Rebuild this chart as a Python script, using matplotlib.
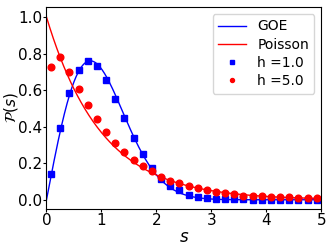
import matplotlib
matplotlib.use("Agg")
import matplotlib.pyplot as plt
import numpy as np

# bin centres of the level-spacing histogram
s_bins = (np.arange(30) + 0.5) / 6.0

p_h1 = [0.142, 0.392, 0.586, 0.710, 0.758, 0.732, 0.656, 0.554, 0.447, 0.340,
        0.249, 0.173, 0.113, 0.077, 0.051, 0.025, 0.015, 0.007, 0.005, 0.003,
        0.002, 0.002, 0.001, 0.001, 0.001, 0.001, 0.000, 0.000, 0.000, 0.000]
p_h5 = [0.728, 0.780, 0.700, 0.604, 0.518, 0.444, 0.372, 0.313, 0.264, 0.219,
        0.187, 0.158, 0.127, 0.105, 0.091, 0.077, 0.064, 0.051, 0.044, 0.038,
        0.031, 0.023, 0.020, 0.018, 0.016, 0.015, 0.013, 0.011, 0.011, 0.011]

# theory curves
s = np.linspace(0, 5, 400)
goe = np.pi / 2 * s * np.exp(-np.pi * s**2 / 4)
poisson = np.exp(-s)

fig = plt.figure(figsize=(3.32, 2.49), dpi=100)
ax = fig.add_axes([0.140, 0.161, 0.828, 0.811])

ax.plot(s, goe, color='blue', lw=1.0, label='GOE')
ax.plot(s, poisson, color='red', lw=1.0, label='Poisson')
ax.plot(s_bins, p_h1, 's', color='blue', ms=4.2, label='h =1.0')
ax.plot(s_bins, p_h5, 'o', color='red', ms=4.8, label='h =5.0')

ax.set_xlim(0, 5)
ax.set_ylim(-0.05, 1.055)
ax.set_xticks([0, 1, 2, 3, 4, 5])
ax.set_yticks([0.0, 0.2, 0.4, 0.6, 0.8, 1.0])
ax.tick_params(labelsize=11, length=2, pad=1.2)
ax.set_xlabel('$s$', fontsize=12, labelpad=0)
ax.set_ylabel(r'$\mathcal{P}(s)$', fontsize=11)
ax.yaxis.set_label_coords(-0.098, 0.5)

ax.legend(loc='upper right', fontsize=10, markerscale=0.6, handlelength=2.0,
          borderpad=0.4, labelspacing=0.3)

fig.savefig('out.png', dpi=100)
